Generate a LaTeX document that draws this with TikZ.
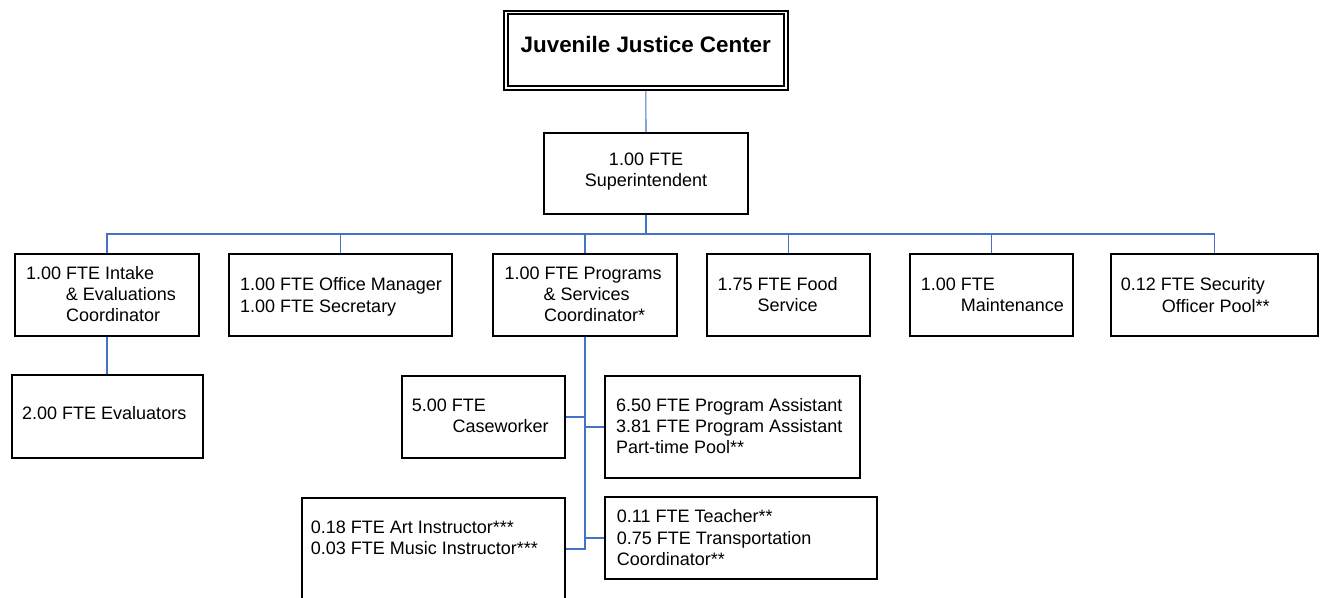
\documentclass[tikz,border=0pt]{standalone}
\usepackage{fontspec}
\setmainfont{Liberation Sans}
\usetikzlibrary{backgrounds}
\definecolor{linkblue}{RGB}{68,114,196}
% stacked lines, baseline on the first line
\newcommand\lstack[1]{\begin{tabular}[t]{@{}l@{}}#1\end{tabular}}
\newcommand\cstack[1]{\begin{tabular}[t]{@{}c@{}}#1\end{tabular}}
\begin{document}
\begin{tikzpicture}[x=1pt,y=-1pt,
  box/.style={draw=black, line width=2pt, rectangle, inner sep=0pt},
  lbl/.style={anchor=base west, inner sep=0pt, font=\fontsize{18}{21.3}\selectfont},
  link/.style={draw=linkblue, line width=1.1pt}]
\useasboundingbox (0,0) rectangle (1321,597);

% title box with double border
\node[draw=black, line width=2pt, double, double distance=1.7pt, rectangle, inner sep=0pt,
      minimum width=279.85pt, minimum height=75.75pt] (jjc) at (645.8,50.4) {};
\node[anchor=base, inner sep=0pt, font=\bfseries\fontsize{22.4}{26}\selectfont] (jjct) at (645.8,52) {Juvenile Justice Center};

% boxes
\node[box, minimum width=204pt, minimum height=81pt] (sup) at (646,173.5) {};
\node[box, minimum width=184pt, minimum height=82pt] (intake) at (107,295) {};
\node[box, minimum width=223pt, minimum height=82pt] (office) at (340.5,295) {};
\node[box, minimum width=184pt, minimum height=82pt] (prog) at (585,295) {};
\node[box, minimum width=163pt, minimum height=82pt] (food) at (788.5,295) {};
\node[box, minimum width=163pt, minimum height=82pt] (maint) at (991.5,295) {};
\node[box, minimum width=207pt, minimum height=82pt] (sec) at (1214.5,295) {};
\node[box, minimum width=191pt, minimum height=83pt] (eval) at (107.5,416.5) {};
\node[box, minimum width=163pt, minimum height=82pt] (cw) at (483.5,417) {};
\node[box, minimum width=255pt, minimum height=102pt] (pa) at (732.5,427) {};
\node[box, minimum width=263pt, minimum height=112pt] (art) at (433.5,554) {};
\node[box, minimum width=272pt, minimum height=82pt] (teach) at (741,538) {};

% texts
\node[lbl, anchor=base] (supt) at (646,165.5) {\cstack{1.00 FTE\\Superintendent}};
\node[lbl] (intaket) at (26,279.3) {\lstack{1.00 FTE Intake\\\hspace*{39.7pt}\& Evaluations\\\hspace*{40pt}Coordinator}};
\node[lbl] (officet) at (240,290.7) {\lstack{1.00 FTE Office Manager\\1.00 FTE Secretary}};
\node[lbl] (progt) at (504.3,279.3) {\lstack{1.00 FTE Programs\\\hspace*{39pt}\& Services\\\hspace*{39.7pt}Coordinator*}};
\node[lbl] (foodt) at (717.3,290.3) {\lstack{1.75 FTE Food\\\hspace*{40pt}Service}};
\node[lbl] (maintt) at (920.7,290.3) {\lstack{1.00 FTE\\\hspace*{40pt}Maintenance}};
\node[lbl] (sect) at (1120.7,290.7) {\lstack{0.12 FTE Security\\\hspace*{41pt}Officer Pool**}};
\node[lbl] (evalt) at (22,419.3) {2.00 FTE Evaluators};
\node[lbl] (cwt) at (411.7,411) {\lstack{5.00 FTE\\\hspace*{40.6pt}Caseworker}};
\node[lbl] (pat) at (616,411) {\lstack{6.50 FTE Program Assistant\\3.81 FTE Program Assistant\\Part-time Pool**}};
\node[lbl] (artt) at (310.7,533.3) {\lstack{0.18 FTE Art Instructor***\\0.03 FTE Music Instructor***}};
\node[lbl] (teacht) at (616.7,522.7) {\lstack{0.11 FTE Teacher**\\0.75 FTE Transportation\\Coordinator**}};

% connectors
\coordinate (bus) at (646,234);
\coordinate (spineend) at (585,549);
\begin{scope}[on background layer]
  \fill[white] (0,0) rectangle (1321,597);
  \draw[link] (jjc.south) -- (sup.north);
  \draw[link] (sup.south) -- (bus);
  \draw[link] (intake.north) -- (intake.north |- bus) -- (sec.north |- bus) -- (sec.north);
  \foreach \n in {office,prog,food,maint}
    \draw[link] (\n.north |- bus) -- (\n.north);
  \draw[link] (intake.south) -- (intake.south |- eval.north);
  \draw[link] (prog.south) -- (spineend) -- (art.east |- spineend);
  \draw[link] (cw.east) -- (cw.east -| prog.south);
  \draw[link] (pa.west) -- (pa.west -| prog.south);
  \draw[link] (teach.west) -- (teach.west -| prog.south);
\end{scope}
\end{tikzpicture}
\end{document}
